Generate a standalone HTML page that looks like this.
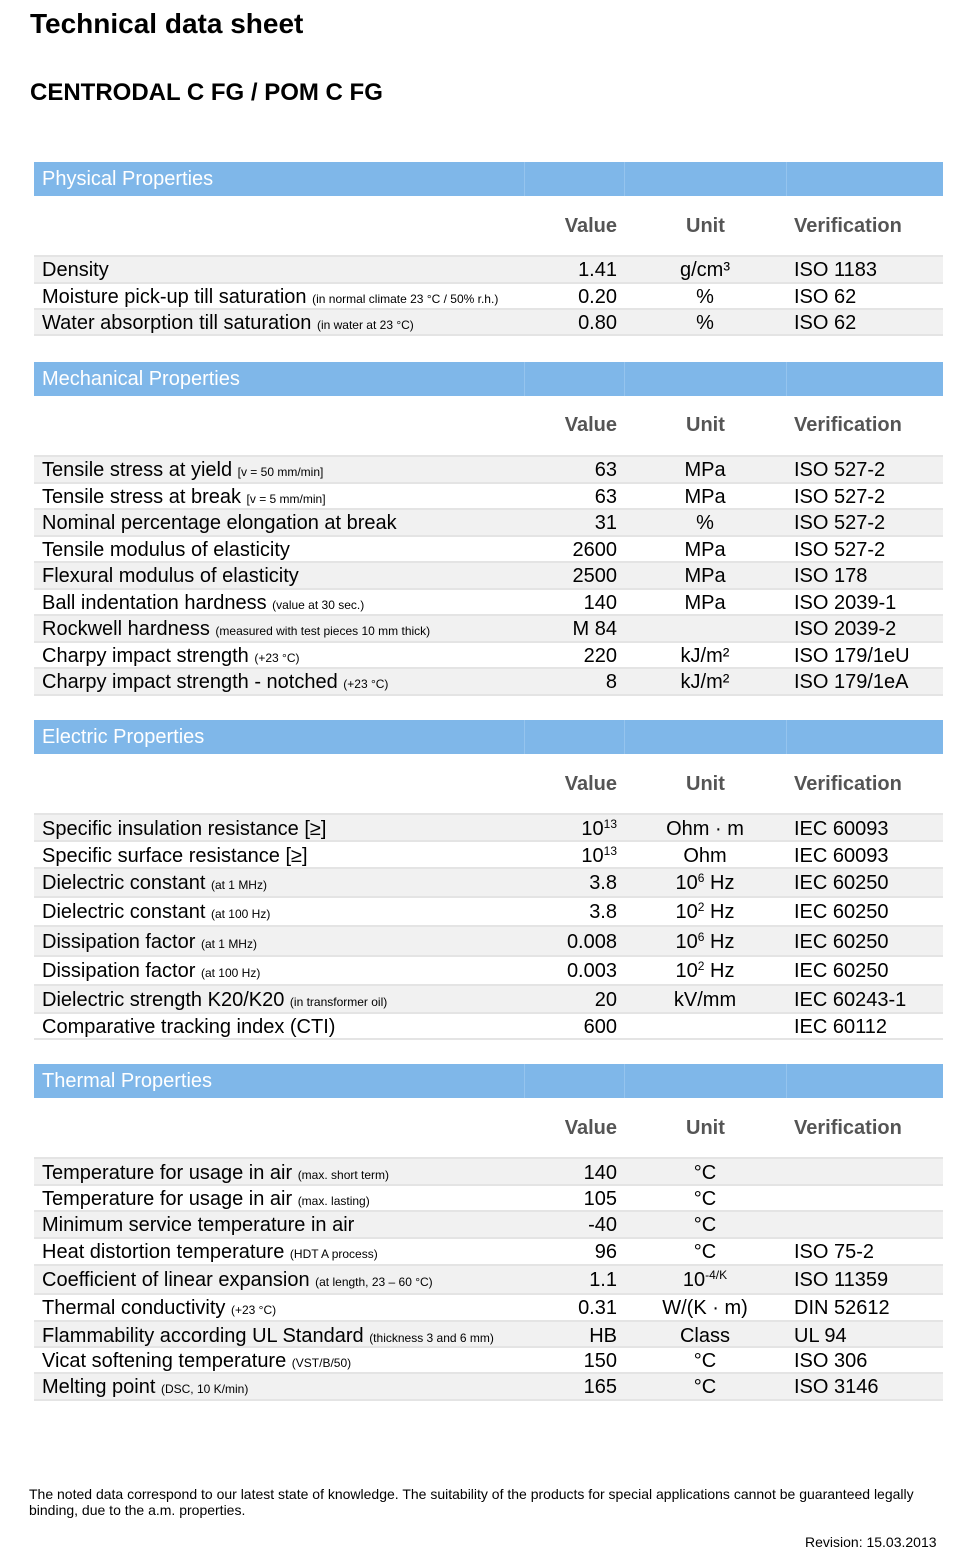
<!DOCTYPE html>
<html><head><meta charset="utf-8"><style>
*{margin:0;padding:0;box-sizing:border-box}
body{width:976px;height:1559px;background:#fff;font-family:"Liberation Sans",Arial,sans-serif;color:#000;position:relative;overflow:hidden}
.a{position:absolute;white-space:nowrap}
.t1{left:30px;top:8px;font-size:28px;font-weight:bold}
.t2{left:30px;top:79px;font-size:24px;font-weight:bold}
.hd{position:absolute;left:34px;width:909px;height:34px;background:#7fb7e9;color:#fff;font-size:20px;line-height:35px;padding-left:8px}
.hd i{position:absolute;top:0;width:1px;height:34px;background:#95c4ee}
.ch{position:absolute;left:34px;width:909px;height:30px;font-size:20px;font-weight:bold;color:#555;line-height:31px}
.r{position:absolute;left:34px;width:909px;font-size:20px;border-top:2px solid #e4e4e4}
.r.g{background:#f1f1f1}
.r span{position:absolute;top:1px;white-space:nowrap}
.n{left:8px}
.v{right:326px}
.u{left:590px;width:162px;text-align:center}
.f{left:760px}
small{font-size:12px}
sup{font-size:12px;vertical-align:7px;line-height:0}
.last{position:absolute;left:34px;width:909px;height:2px;background:#e4e4e4}
</style></head><body>
<div class="a t1">Technical data sheet</div>
<div class="a t2">CENTRODAL C FG / POM C FG</div>

<div class="hd" style="top:162px">Physical Properties<i style="left:490px"></i><i style="left:590px"></i><i style="left:752px"></i></div>
<div class="ch" style="top:211px"><span class="a" style="right:326px">Value</span><span class="a" style="left:652px">Unit</span><span class="a" style="left:760px">Verification</span></div>
<div class="r g" style="top:255px;height:27px;line-height:25px"><span class="n">Density</span><span class="v">1.41</span><span class="u">g/cm³</span><span class="f">ISO 1183</span></div>
<div class="r" style="top:282px;height:26px;line-height:24px"><span class="n">Moisture pick-up till saturation <small>(in normal climate 23 °C / 50% r.h.)</small></span><span class="v">0.20</span><span class="u">%</span><span class="f">ISO 62</span></div>
<div class="r g" style="top:308px;height:26px;line-height:24px"><span class="n">Water absorption till saturation <small>(in water at 23 °C)</small></span><span class="v">0.80</span><span class="u">%</span><span class="f">ISO 62</span></div>
<div class="last" style="top:334px"></div>

<div class="hd" style="top:362px">Mechanical Properties<i style="left:490px"></i><i style="left:590px"></i><i style="left:752px"></i></div>
<div class="ch" style="top:410px"><span class="a" style="right:326px">Value</span><span class="a" style="left:652px">Unit</span><span class="a" style="left:760px">Verification</span></div>
<div class="r g" style="top:455px;height:27px;line-height:25px"><span class="n">Tensile stress at yield <small>[v = 50 mm/min]</small></span><span class="v">63</span><span class="u">MPa</span><span class="f">ISO 527-2</span></div>
<div class="r" style="top:482px;height:26px;line-height:24px"><span class="n">Tensile stress at break <small>[v = 5 mm/min]</small></span><span class="v">63</span><span class="u">MPa</span><span class="f">ISO 527-2</span></div>
<div class="r g" style="top:508px;height:27px;line-height:25px"><span class="n">Nominal percentage elongation at break</span><span class="v">31</span><span class="u">%</span><span class="f">ISO 527-2</span></div>
<div class="r" style="top:535px;height:26px;line-height:24px"><span class="n">Tensile modulus of elasticity</span><span class="v">2600</span><span class="u">MPa</span><span class="f">ISO 527-2</span></div>
<div class="r g" style="top:561px;height:27px;line-height:25px"><span class="n">Flexural modulus of elasticity</span><span class="v">2500</span><span class="u">MPa</span><span class="f">ISO 178</span></div>
<div class="r" style="top:588px;height:26px;line-height:24px"><span class="n">Ball indentation hardness <small>(value at 30 sec.)</small></span><span class="v">140</span><span class="u">MPa</span><span class="f">ISO 2039-1</span></div>
<div class="r g" style="top:614px;height:27px;line-height:25px"><span class="n">Rockwell hardness <small>(measured with test pieces 10 mm thick)</small></span><span class="v">M 84</span><span class="u"></span><span class="f">ISO 2039-2</span></div>
<div class="r" style="top:641px;height:26px;line-height:24px"><span class="n">Charpy impact strength <small>(+23 °C)</small></span><span class="v">220</span><span class="u">kJ/m²</span><span class="f">ISO 179/1eU</span></div>
<div class="r g" style="top:667px;height:27px;line-height:25px"><span class="n">Charpy impact strength - notched <small>(+23 °C)</small></span><span class="v">8</span><span class="u">kJ/m²</span><span class="f">ISO 179/1eA</span></div>
<div class="last" style="top:694px"></div>

<div class="hd" style="top:720px">Electric Properties<i style="left:490px"></i><i style="left:590px"></i><i style="left:752px"></i></div>
<div class="ch" style="top:769px"><span class="a" style="right:326px">Value</span><span class="a" style="left:652px">Unit</span><span class="a" style="left:760px">Verification</span></div>
<div class="r g" style="top:813px;height:27px;line-height:27px"><span class="n">Specific insulation resistance [≥]</span><span class="v">10<sup>13</sup></span><span class="u">Ohm · m</span><span class="f">IEC 60093</span></div>
<div class="r" style="top:840px;height:27px;line-height:27px"><span class="n">Specific surface resistance [≥]</span><span class="v">10<sup>13</sup></span><span class="u">Ohm</span><span class="f">IEC 60093</span></div>
<div class="r g" style="top:867px;height:29px;line-height:27px"><span class="n">Dielectric constant <small>(at 1 MHz)</small></span><span class="v">3.8</span><span class="u">10<sup>6</sup> Hz</span><span class="f">IEC 60250</span></div>
<div class="r" style="top:896px;height:29px;line-height:27px"><span class="n">Dielectric constant <small>(at 100 Hz)</small></span><span class="v">3.8</span><span class="u">10<sup>2</sup> Hz</span><span class="f">IEC 60250</span></div>
<div class="r g" style="top:925px;height:30px;line-height:28px"><span class="n">Dissipation factor <small>(at 1 MHz)</small></span><span class="v">0.008</span><span class="u">10<sup>6</sup> Hz</span><span class="f">IEC 60250</span></div>
<div class="r" style="top:955px;height:29px;line-height:27px"><span class="n">Dissipation factor <small>(at 100 Hz)</small></span><span class="v">0.003</span><span class="u">10<sup>2</sup> Hz</span><span class="f">IEC 60250</span></div>
<div class="r g" style="top:984px;height:28px;line-height:26px"><span class="n">Dielectric strength K20/K20 <small>(in transformer oil)</small></span><span class="v">20</span><span class="u">kV/mm</span><span class="f">IEC 60243-1</span></div>
<div class="r" style="top:1012px;height:26px;line-height:24px"><span class="n">Comparative tracking index (CTI)</span><span class="v">600</span><span class="u"></span><span class="f">IEC 60112</span></div>
<div class="last" style="top:1038px"></div>

<div class="hd" style="top:1064px">Thermal Properties<i style="left:490px"></i><i style="left:590px"></i><i style="left:752px"></i></div>
<div class="ch" style="top:1113px"><span class="a" style="right:326px">Value</span><span class="a" style="left:652px">Unit</span><span class="a" style="left:760px">Verification</span></div>
<div class="r g" style="top:1157px;height:27px;line-height:27px"><span class="n">Temperature for usage in air <small>(max. short term)</small></span><span class="v">140</span><span class="u">°C</span><span class="f"></span></div>
<div class="r" style="top:1184px;height:26px;line-height:24px"><span class="n">Temperature for usage in air <small>(max. lasting)</small></span><span class="v">105</span><span class="u">°C</span><span class="f"></span></div>
<div class="r g" style="top:1210px;height:27px;line-height:25px"><span class="n">Minimum service temperature in air</span><span class="v">-40</span><span class="u">°C</span><span class="f"></span></div>
<div class="r" style="top:1237px;height:27px;line-height:25px"><span class="n">Heat distortion temperature <small>(HDT A process)</small></span><span class="v">96</span><span class="u">°C</span><span class="f">ISO 75-2</span></div>
<div class="r g" style="top:1264px;height:29px;line-height:27px"><span class="n">Coefficient of linear expansion <small>(at length, 23 – 60 °C)</small></span><span class="v">1.1</span><span class="u">10<sup>-4/K</sup></span><span class="f">ISO 11359</span></div>
<div class="r" style="top:1293px;height:27px;line-height:25px"><span class="n">Thermal conductivity <small>(+23 °C)</small></span><span class="v">0.31</span><span class="u">W/(K · m)</span><span class="f">DIN 52612</span></div>
<div class="r g" style="top:1320px;height:26px;line-height:26px"><span class="n">Flammability according UL Standard <small>(thickness 3 and 6 mm)</small></span><span class="v">HB</span><span class="u">Class</span><span class="f">UL 94</span></div>
<div class="r" style="top:1346px;height:26px;line-height:24px"><span class="n">Vicat softening temperature <small>(VST/B/50)</small></span><span class="v">150</span><span class="u">°C</span><span class="f">ISO 306</span></div>
<div class="r g" style="top:1372px;height:27px;line-height:25px"><span class="n">Melting point <small>(DSC, 10 K/min)</small></span><span class="v">165</span><span class="u">°C</span><span class="f">ISO 3146</span></div>
<div class="last" style="top:1399px"></div>

<div class="a" style="left:29px;top:1486px;font-size:14px;line-height:16px;white-space:normal;width:900px">The noted data correspond to our latest state of knowledge. The suitability of the products for special applications cannot be guaranteed legally binding, due to the a.m. properties.</div>
<div class="a" style="left:805px;top:1534px;font-size:14px">Revision: 15.03.2013</div>
</body></html>
